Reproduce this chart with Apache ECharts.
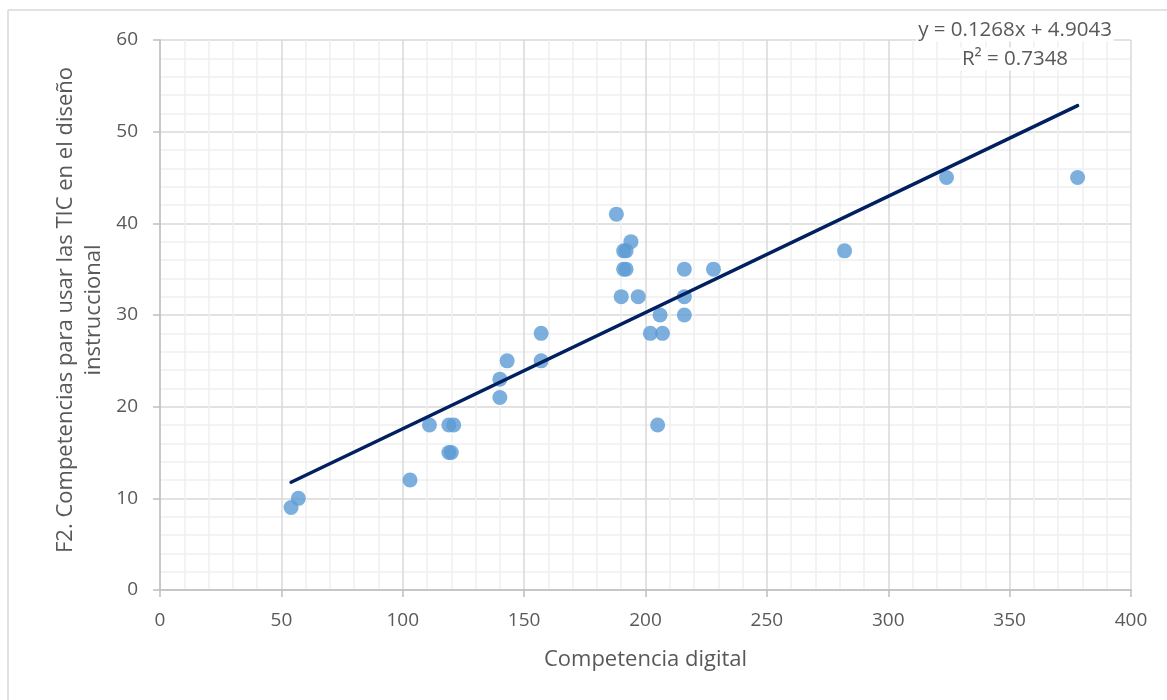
<!DOCTYPE html>
<html>
<head>
<meta charset="utf-8">
<script src="https://cdn.jsdelivr.net/npm/echarts@6/dist/echarts.min.js"></script>
<style>
html,body{margin:0;padding:0;background:#fff;}
#chart{width:1167px;height:700px;}
</style>
</head>
<body>
<div id="chart"></div>
<script>
// Data
const competenciaDigital = [54, 57, 103, 111, 119, 121, 119, 120, 140, 140, 143, 157, 157, 188, 194, 191, 192, 191, 192, 190, 197, 206, 202, 207, 205, 216, 216, 216, 228, 282, 324, 378];
const f2Competencias    = [ 9, 10,  12,  18,  18,  18,  15,  15,  21,  23,  25,  25,  28,  41,  38,  37,  37,  35,  35,  32,  32,  30,  28,  28,  18,  35,  32,  30,  35,  37,  45,  45];
const trendSlope = 0.1268;
const trendIntercept = 4.9043;
const trendR2 = 0.7348;
const xAxisTitle = 'Competencia digital';
const yAxisTitle = 'F2. Competencias para usar las TIC en el diseño\ninstruccional';

const points = competenciaDigital.map((x, i) => [x, f2Competencias[i]]);
const xMin = Math.min(...competenciaDigital);
const xMax = Math.max(...competenciaDigital);
const trendLine = [[xMin, trendSlope * xMin + trendIntercept], [xMax, trendSlope * xMax + trendIntercept]];

const FONT = '"Open Sans", Lato, sans-serif';
const TXT = '#595959';

const chart = echarts.init(document.getElementById('chart'), null, {renderer: 'canvas'});
chart.setOption({
  animation: false,
  backgroundColor: '#ffffff',
  grid: {left: 160, right: 36, top: 40, bottom: 110, containLabel: false},
  xAxis: {
    type: 'value', min: 0, max: 400, interval: 50,
    name: xAxisTitle, nameLocation: 'middle', nameGap: 59,
    nameTextStyle: {fontFamily: FONT, fontSize: 22, color: TXT},
    axisLine: {show: true, onZero: false, lineStyle: {color: '#bfbfbf', width: 1.5}},
    axisTick: {show: true, inside: false, length: 7, lineStyle: {color: '#bfbfbf', width: 1.5}},
    axisLabel: {fontFamily: FONT, fontSize: 19, color: TXT, margin: 21},
    splitLine: {show: true, lineStyle: {color: '#d9d9d9', width: 1.5}},
    minorTick: {show: false, splitNumber: 5},
    minorSplitLine: {show: true, lineStyle: {color: '#efefef', width: 1.5}}
  },
  yAxis: {
    type: 'value', min: 0, max: 60, interval: 10,
    axisLine: {show: true, onZero: false, lineStyle: {color: '#bfbfbf', width: 1.5}},
    axisTick: {show: true, inside: false, length: 7, lineStyle: {color: '#bfbfbf', width: 1.5}},
    axisLabel: {fontFamily: FONT, fontSize: 19, color: TXT, margin: 22},
    splitLine: {show: true, lineStyle: {color: '#d9d9d9', width: 1.5}},
    minorTick: {show: false, splitNumber: 5},
    minorSplitLine: {show: true, lineStyle: {color: '#efefef', width: 1.5}}
  },
  series: [
    {
      type: 'scatter', data: points, symbol: 'circle', symbolSize: 15,
      itemStyle: {color: '#5b9bd5'}, z: 3
    },
    {
      type: 'line', data: trendLine, showSymbol: false, symbol: 'none',
      lineStyle: {color: '#002060', width: 3.5, cap: 'round'}, z: 4, silent: true
    }
  ],
  graphic: [
    {type: 'line', shape: {x1: 8, y1: 10, x2: 1167, y2: 10}, style: {stroke: '#d9d9d9', lineWidth: 1.5}, silent: true},
    {type: 'line', shape: {x1: 8, y1: 10, x2: 8, y2: 700}, style: {stroke: '#d9d9d9', lineWidth: 1.5}, silent: true},
    {
      type: 'text', x: 80, y: 310, rotation: Math.PI / 2,
      style: {text: yAxisTitle, font: '22px ' + FONT, fill: TXT, align: 'center', verticalAlign: 'middle', lineHeight: 28}
    },
    {
      type: 'text', x: 1015, y: 30, z: 100,
      style: {text: 'y = ' + trendSlope.toFixed(4) + 'x + ' + trendIntercept.toFixed(4), font: '20.5px ' + FONT, fill: TXT, align: 'center', verticalAlign: 'middle', backgroundColor: '#ffffff', padding: [1, 2]}
    },
    {
      type: 'text', x: 1015, y: 59, z: 100,
      style: {text: 'R² = ' + trendR2.toFixed(4), font: '20.5px ' + FONT, fill: TXT, align: 'center', verticalAlign: 'middle', backgroundColor: '#ffffff', padding: [1, 2]}
    }
  ]
});
</script>
</body>
</html>
